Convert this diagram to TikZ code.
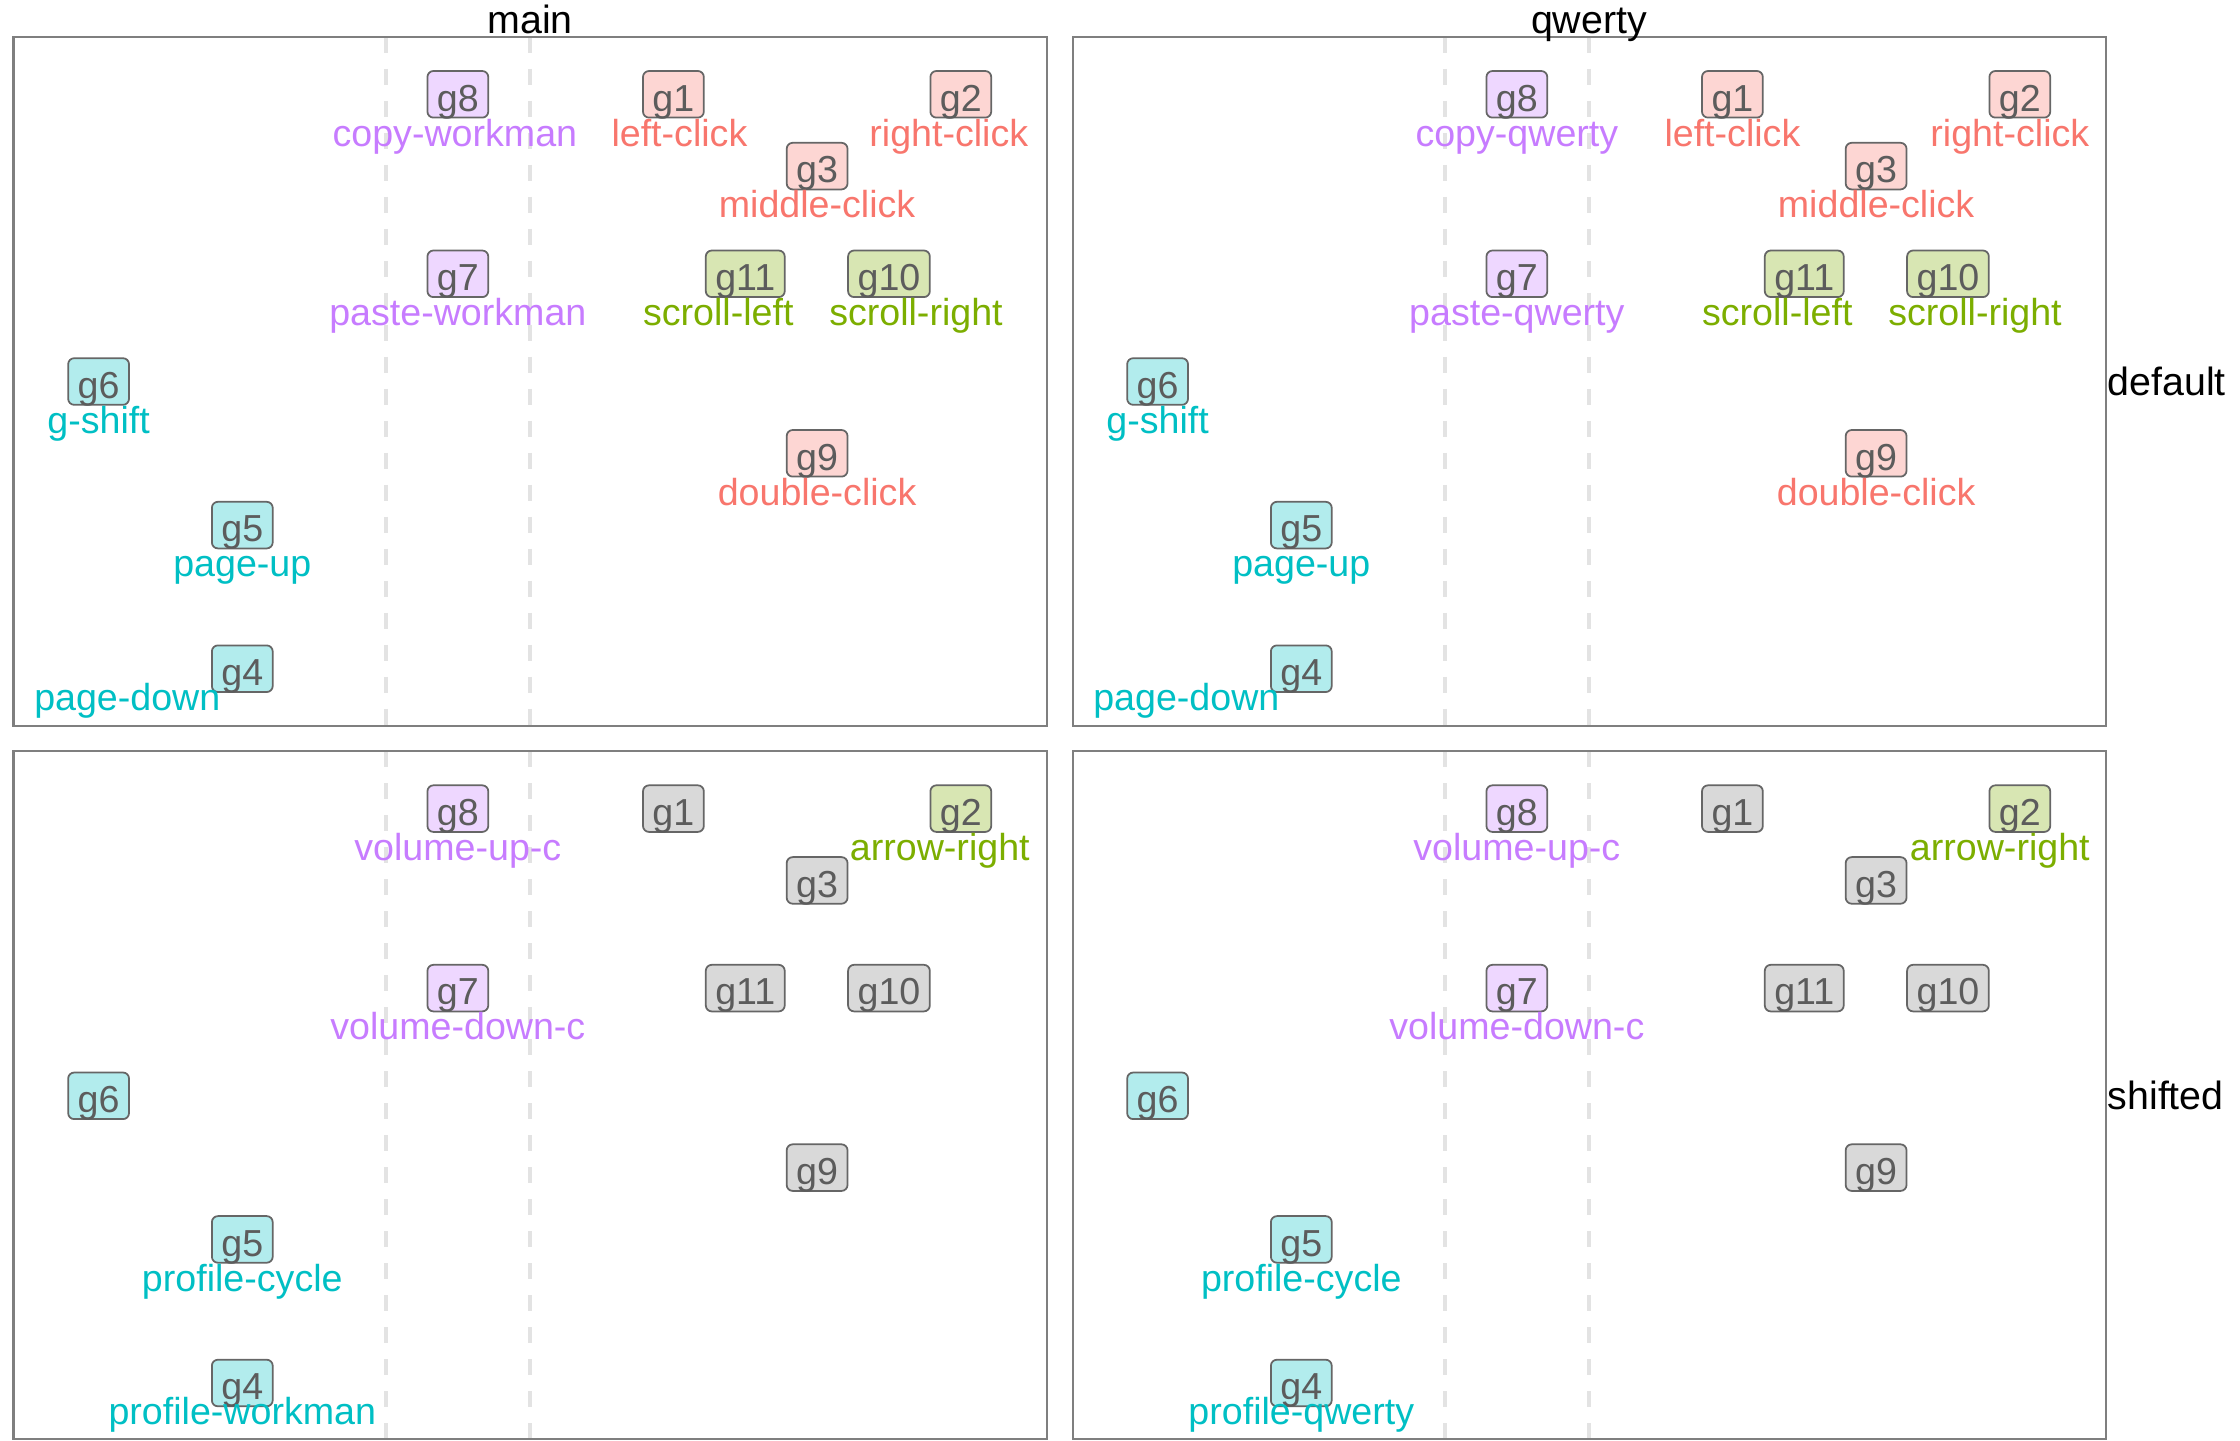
\documentclass[tikz,border=0pt]{standalone}
\usepackage{fontspec}
\setmainfont{Liberation Sans}
\definecolor{redkey}{HTML}{F8766D}
\definecolor{purplekey}{HTML}{C77CFF}
\definecolor{greenkey}{HTML}{7CAE00}
\definecolor{cyankey}{HTML}{00BFC4}
\definecolor{redfill}{HTML}{FDD6D3}
\definecolor{purplefill}{HTML}{EED7FF}
\definecolor{greenfill}{HTML}{D8E6B3}
\definecolor{cyanfill}{HTML}{B2ECED}
\definecolor{greyfill}{HTML}{D9D9D9}
\definecolor{keyedge}{HTML}{666666}
\definecolor{keytext}{HTML}{5C5C5C}
\definecolor{frame}{HTML}{7F7F7F}
\definecolor{guide}{HTML}{E3E3E3}
\tikzset{
  box/.style={draw=keyedge, fill=#1, line width=0.5pt, rounded corners=0.6mm,
    text=keytext, inner xsep=0.95mm, inner ysep=0pt, text height=4mm,
    text depth=0.66mm, font=\fontsize{10.7}{12}\selectfont},
  lbl/.style={anchor=base, inner sep=0pt, font=\fontsize{10.7}{12}\selectfont},
  panel/.style={draw=frame, line width=0.57pt},
  guideline/.style={draw=guide, line width=1.1pt, dash pattern=on 1.6mm off 1.6mm},
  strip/.style={anchor=base, inner sep=0pt, font=\fontsize{11.2}{13}\selectfont}
}
\begin{document}
\begin{tikzpicture}
  \useasboundingbox (0,0) rectangle (22.4,-14.4);
  % panels and guide lines
  \foreach \px/\py in {0/0,10.59/0,0/-7.143,10.59/-7.143} {
    \draw[guideline] (\px+3.860,\py-0.367) -- (\px+3.860,\py-7.26);
    \draw[guideline] (\px+5.297,\py-0.367) -- (\px+5.297,\py-7.26);
  }
  % keys, default layer
  \foreach \px/\pn in {0/md,10.59/qd} {
    \foreach \g/\k/\j/\f in {g1/9/0/redfill,g2/13/0/redfill,g3/11/1/redfill,
        g4/3/8/cyanfill,g5/3/6/cyanfill,g6/1/4/cyanfill,g7/6/2.5/purplefill,
        g8/6/0/purplefill,g9/11/5/redfill,g10/12/2.5/greenfill,g11/10/2.5/greenfill}
      \node[box=\f] (\pn-\g) at ({\px+0.986+(\k-1)*0.7185},{-0.943-\j*0.718}) {\g};
  }
  % keys, shifted layer
  \foreach \px/\pn in {0/ms,10.59/qs} {
    \foreach \g/\k/\j/\f in {g1/9/0/greyfill,g2/13/0/greenfill,g3/11/1/greyfill,
        g4/3/8/cyanfill,g5/3/6/cyanfill,g6/1/4/cyanfill,g7/6/2.5/purplefill,
        g8/6/0/purplefill,g9/11/5/greyfill,g10/12/2.5/greyfill,g11/10/2.5/greyfill}
      \node[box=\f] (\pn-\g) at ({\px+0.986+(\k-1)*0.7185},{-8.086-\j*0.718}) {\g};
  }

  % labels main / default
  \node[lbl, text=purplekey] (md-l8) at ([shift={(-0.03,-0.517)}]md-g8) {copy-workman};
  \node[lbl, text=redkey] (md-l1) at ([shift={(0.06,-0.517)}]md-g1) {left-click};
  \node[lbl, text=redkey] (md-l2) at ([shift={(-0.12,-0.517)}]md-g2) {right-click};
  \node[lbl, text=redkey] (md-l3) at ([shift={(0,-0.517)}]md-g3) {middle-click};
  \node[lbl, text=purplekey] (md-l7) at ([shift={(0,-0.517)}]md-g7) {paste-workman};
  \node[lbl, text=greenkey] (md-l11) at ([shift={(-0.27,-0.517)}]md-g11) {scroll-left};
  \node[lbl, text=greenkey] (md-l10) at ([shift={(0.27,-0.517)}]md-g10) {scroll-right};
  \node[lbl, text=cyankey] (md-l6) at ([shift={(0,-0.517)}]md-g6) {g-shift};
  \node[lbl, text=redkey] (md-l9) at ([shift={(0,-0.517)}]md-g9) {double-click};
  \node[lbl, text=cyankey] (md-l5) at ([shift={(0,-0.517)}]md-g5) {page-up};
  \node[lbl, text=cyankey] (md-l4) at ([shift={(-1.15,-0.415)}]md-g4) {page-down};

  % labels qwerty / default
  \node[lbl, text=purplekey] (qd-l8) at ([shift={(0,-0.517)}]qd-g8) {copy-qwerty};
  \node[lbl, text=redkey] (qd-l1) at ([shift={(0,-0.517)}]qd-g1) {left-click};
  \node[lbl, text=redkey] (qd-l2) at ([shift={(-0.10,-0.517)}]qd-g2) {right-click};
  \node[lbl, text=redkey] (qd-l3) at ([shift={(0,-0.517)}]qd-g3) {middle-click};
  \node[lbl, text=purplekey] (qd-l7) at ([shift={(0,-0.517)}]qd-g7) {paste-qwerty};
  \node[lbl, text=greenkey] (qd-l11) at ([shift={(-0.27,-0.517)}]qd-g11) {scroll-left};
  \node[lbl, text=greenkey] (qd-l10) at ([shift={(0.27,-0.517)}]qd-g10) {scroll-right};
  \node[lbl, text=cyankey] (qd-l6) at ([shift={(0,-0.517)}]qd-g6) {g-shift};
  \node[lbl, text=redkey] (qd-l9) at ([shift={(0,-0.517)}]qd-g9) {double-click};
  \node[lbl, text=cyankey] (qd-l5) at ([shift={(0,-0.517)}]qd-g5) {page-up};
  \node[lbl, text=cyankey] (qd-l4) at ([shift={(-1.15,-0.415)}]qd-g4) {page-down};

  % labels main / shifted
  \node[lbl, text=purplekey] (ms-l8) at ([shift={(0,-0.517)}]ms-g8) {volume-up-c};
  \node[lbl, text=greenkey] (ms-l2) at ([shift={(-0.21,-0.517)}]ms-g2) {arrow-right};
  \node[lbl, text=purplekey] (ms-l7) at ([shift={(0,-0.517)}]ms-g7) {volume-down-c};
  \node[lbl, text=cyankey] (ms-l5) at ([shift={(0,-0.517)}]ms-g5) {profile-cycle};
  \node[lbl, text=cyankey] (ms-l4) at ([shift={(0,-0.415)}]ms-g4) {profile-workman};

  % labels qwerty / shifted
  \node[lbl, text=purplekey] (qs-l8) at ([shift={(0,-0.517)}]qs-g8) {volume-up-c};
  \node[lbl, text=greenkey] (qs-l2) at ([shift={(-0.20,-0.517)}]qs-g2) {arrow-right};
  \node[lbl, text=purplekey] (qs-l7) at ([shift={(0,-0.517)}]qs-g7) {volume-down-c};
  \node[lbl, text=cyankey] (qs-l5) at ([shift={(0,-0.517)}]qs-g5) {profile-cycle};
  \node[lbl, text=cyankey] (qs-l4) at ([shift={(0,-0.415)}]qs-g4) {profile-qwerty};

  % frames
  \draw[panel] (0.135,-0.367) rectangle (10.47,-7.26);
  \draw[panel] (10.73,-0.367) rectangle (21.057,-7.26);
  \draw[panel] (0.135,-7.507) rectangle (10.47,-14.385);
  \draw[panel] (10.73,-7.507) rectangle (21.057,-14.385);

  % strip texts
  \node[strip] (main) at (5.30,-0.33) {main};
  \node[strip] (qwerty) at (15.89,-0.33) {qwerty};
  \node[strip, anchor=base west] (default) at (21.07,-3.95) {default};
  \node[strip, anchor=base west] (shifted) at (21.07,-11.09) {shifted};
\end{tikzpicture}
\end{document}
